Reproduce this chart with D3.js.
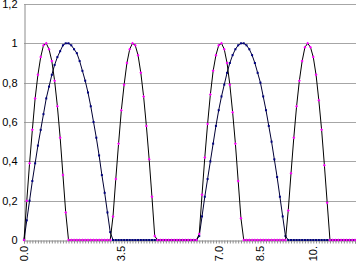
<!DOCTYPE html>
<html><head><meta charset="utf-8">
<script src="https://cdn.jsdelivr.net/npm/d3@7"></script>
<style>body{margin:0;background:#fff}svg{display:block}</style>
</head><body>
<svg id="c" width="356" height="266"></svg>
<script>
// categories t = 0.0 .. 11.9
const categories = d3.range(120).map(i => (i / 10).toFixed(1));
const darkSeries = [
  0,0.10,0.20,0.30,0.39,0.48,0.56,0.64,0.72,0.78,0.84,0.89,0.93,0.96,0.99,1.00,
  1.00,0.99,0.97,0.95,0.91,0.86,0.81,0.75,0.68,0.60,0.52,0.43,0.33,0.24,0.14,0.04,
  0,0,0,0,0,0,0,0,0,0,0,0,0,0,0,0,0,0,0,0,0,0,0,0,0,0,0,0,0,0,0,
  0.02,0.12,0.22,0.31,0.40,0.49,0.58,0.66,0.73,0.79,0.85,0.90,0.94,0.97,0.99,1.00,
  1.00,0.99,0.97,0.94,0.90,0.85,0.80,0.73,0.66,0.58,0.50,0.41,0.32,0.22,0.12,0.02,
  0,0,0,0,0,0,0,0,0,0,0,0,0,0,0,0,0,0,0,0,0,0,0,0,0
];
const pinkSeries = [
  0,0.20,0.39,0.56,0.72,0.84,0.93,0.99,1.00,0.97,0.91,0.81,0.68,0.52,0.33,0.14,
  0,0,0,0,0,0,0,0,0,0,0,0,0,0,0,0,
  0.12,0.31,0.49,0.66,0.79,0.90,0.97,1.00,0.99,0.94,0.85,0.73,0.58,0.41,0.22,0.02,
  0,0,0,0,0,0,0,0,0,0,0,0,0,0,0,
  0.03,0.23,0.42,0.59,0.74,0.86,0.94,0.99,1.00,0.97,0.90,0.79,0.65,0.49,0.30,0.11,
  0,0,0,0,0,0,0,0,0,0,0,0,0,0,0,0,
  0.15,0.34,0.52,0.68,0.81,0.91,0.98,1.00,0.98,0.93,0.84,0.71,0.56,0.38,0.19,
  0,0,0,0,0,0,0,0,0,0
];
const yTicks = [0, 0.2, 0.4, 0.6, 0.8, 1, 1.2];
const yTickLabels = ["0", "0,2", "0,4", "0,6", "0,8", "1", "1,2"];
const xLabelIndex = [0, 35, 70, 85, 104];
const xLabels = ["0.0", "3.5", "7.0", "8.5", "10."];

(function () {
const svg = d3.select("#c");
const mLeft = 24, mRight = 355, mTop = 4, mBottom = 240;
const x = d3.scalePoint().domain(d3.range(categories.length)).range([mLeft, mRight]);
const y = d3.scaleLinear().domain([0, 1.2]).range([mBottom, mTop]);
const font = "'Liberation Sans', Arial, sans-serif";

// gridlines
svg.append("g").selectAll("line").data(yTicks.slice(1)).join("line")
  .attr("x1", mLeft).attr("x2", 356)
  .attr("y1", d => Math.round(y(d)) + 0.5).attr("y2", d => Math.round(y(d)) + 0.5)
  .attr("stroke", "#a6a6a6").attr("stroke-width", 1);

// y axis
const yAxis = svg.append("g").attr("transform", `translate(${mLeft + 0.5},0)`)
  .call(d3.axisLeft(y).tickValues(yTicks).tickSize(0).tickFormat((d, i) => yTickLabels[i]));
yAxis.select(".domain").attr("stroke", "#8c8c8c");
yAxis.selectAll("text").attr("font-family", font).attr("font-size", 11).attr("fill", "#000").attr("x", -7);

// x axis
const xAxis = svg.append("g").attr("transform", `translate(0,${mBottom + 0.5})`)
  .call(d3.axisBottom(x).tickSize(3).tickFormat(""));
xAxis.select(".domain").attr("stroke", "#8c8c8c");
xAxis.selectAll(".tick line").attr("stroke", "#8c8c8c");
svg.append("g").selectAll("text").data(xLabelIndex).join("text")
  .attr("transform", d => `translate(${x(d)},246) rotate(-90)`)
  .attr("text-anchor", "end").attr("dy", "0.35em")
  .attr("font-family", font).attr("font-size", 11).attr("fill", "#000")
  .text((d, i) => xLabels[i]);

const line = d3.line().x((d, i) => x(i)).y(d => y(d));

// dark series
svg.append("path").datum(darkSeries).attr("d", line)
  .attr("fill", "none").attr("stroke", "#000033").attr("stroke-width", 1);
svg.append("g").selectAll("rect").data(darkSeries).join("rect")
  .attr("x", (d, i) => x(i) - 1).attr("y", d => y(d) - 1)
  .attr("width", 2).attr("height", 2).attr("fill", "#000080");

// pink series
svg.append("path").datum(pinkSeries).attr("d", line)
  .attr("fill", "none").attr("stroke", "#000000").attr("stroke-width", 1);
svg.append("g").selectAll("path.m").data(pinkSeries).join("path")
  .attr("class", "m")
  .attr("d", (d, i) => `M${x(i) - 1.5},${y(d)}L${x(i)},${y(d) - 1.5}L${x(i) + 1.5},${y(d)}L${x(i)},${y(d) + 1.5}Z`)
  .attr("fill", "#ff00ff");
})();
</script>
</body></html>
